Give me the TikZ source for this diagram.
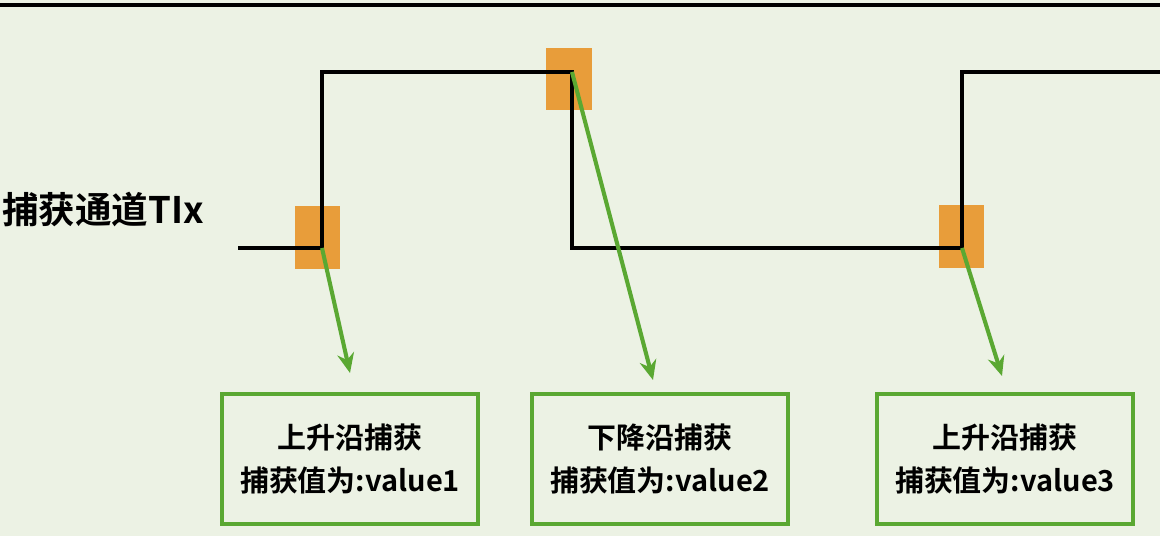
\documentclass[tikz,border=0pt]{standalone}
\usepackage{fontspec}
\newfontfamily\cjkbold{Noto Sans CJK SC Bold}
\usepackage{tikz}
\usetikzlibrary{arrows.meta, positioning}
\usepackage{xcolor}
\definecolor{paper}{HTML}{ECF2E4}
\definecolor{capgreen}{HTML}{5AA832}
\definecolor{edgeorange}{HTML}{E89D3A}

\begin{document}
\begin{tikzpicture}[x=0.025cm, y=-0.025cm,
    edgemark/.style={fill=edgeorange, minimum width=1.125cm, minimum height=1.55cm, inner sep=0pt},
    capbox/.style={draw=capgreen, line width=3pt, fill=paper, minimum width=6.4cm, minimum height=3.25cm,
      align=center, font=\cjkbold\fontsize{20.6}{31}\selectfont},
    caparrow/.style={draw=capgreen, line width=2.9pt, -{Stealth[length=14pt, width=12pt]}},
    signal/.style={line width=3.4pt, line join=miter}]
    \useasboundingbox (0,0) rectangle (1160,536);
    \fill[paper] (0,0) rectangle (1160,536);
    \draw[line width=2.2pt] (0,5) -- (1160,5);

    % edge markers
    \node[edgemark] (m0) at (317.5,237.5) {};
    \node[edgemark] (m1) at (569,79) {};
    \node[edgemark] (m2) at (961,236.5) {};

    % capture input
    \coordinate (e0) at (322,248);
    \coordinate (e1) at (572,72);
    \coordinate (e2) at (962,248);
    \draw[signal] (238,248) -- (e0) -- (322,72) -- (e1) -- (572,248) -- (e2) -- (962,72) -- (1160,72);
    \node[anchor=west, font=\cjkbold\fontsize{26}{30}\selectfont, inner sep=0pt] (tix) at (2,210) {捕获通道TIx};

    % result boxes
    \node[capbox] (b0) at (350,459) {上升沿捕获\\捕获值为:value1};
    \node[capbox] (b1) at (660,459) {下降沿捕获\\捕获值为:value2};
    \node[capbox] (b2) at (1005,459) {上升沿捕获\\捕获值为:value3};

    \coordinate (t0) at (350,373);
    \coordinate (t1) at (653,380);
    \coordinate (t2) at (1002,376);
    \draw[caparrow] (e0) -- (t0);
    \draw[caparrow] (e1) -- (t1);
    \draw[caparrow] (e2) -- (t2);
  \end{tikzpicture}
\end{document}
